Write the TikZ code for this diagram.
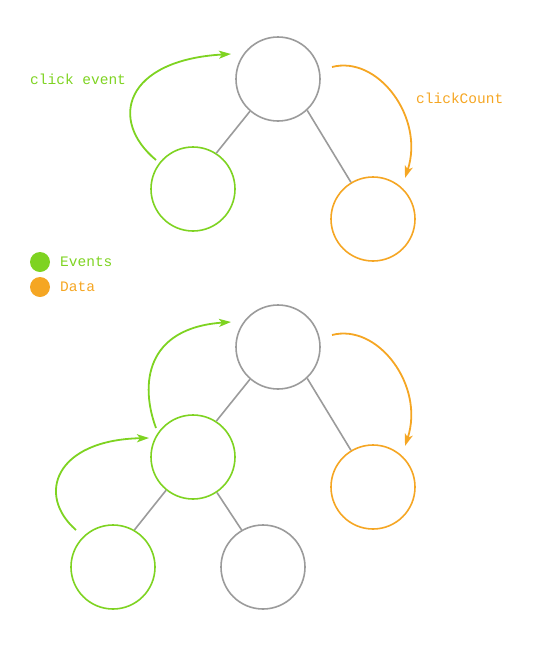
\documentclass[tikz,border=0pt]{standalone}
\usepackage{fontspec}
\setmonofont{Liberation Mono}
\usetikzlibrary{arrows.meta}
\definecolor{evgreen}{RGB}{126,211,33}
\definecolor{dtorange}{RGB}{245,166,35}
\definecolor{edgegray}{RGB}{155,155,155}
\begin{document}
\begin{tikzpicture}[x=1pt,y=-1pt,
  vert/.style={circle,draw=#1,line width=1.6pt,minimum size=84pt,inner sep=0pt},
  vert/.default=edgegray,
  treeedge/.style={draw=edgegray,line width=1.6pt},
  flow/.style={draw=#1,line width=1.8pt,-{Stealth[length=12pt,width=8pt,inset=3pt]}},
  lbl/.style={font=\ttfamily\fontsize{14.5}{17}\selectfont,anchor=base west,inner sep=0pt},
  dot/.style={circle,fill=#1,minimum size=20pt,inner sep=0pt}]
\useasboundingbox (0,0) rectangle (535,646);
% top tree
\node[vert] (ta) at (278,79) {};
\node[vert=evgreen] (tb) at (193,189) {};
\node[vert=dtorange] (tc) at (373,219) {};
\draw[treeedge] (ta.-131) -- (tb.57);
\draw[treeedge] (ta.-47) -- (tc.121);
\coordinate (tgs) at (156,160);
\coordinate (tge) at (231,54);
\draw[flow=evgreen] (tgs) .. controls (108,120) and (125,60) .. (tge);
\coordinate (tos) at (332,67);
\coordinate (toe) at (405,178);
\draw[flow=dtorange] (tos) .. controls (378,55) and (425,118) .. (toe);
\node[lbl,text=evgreen] (lclick) at (30,84) {click event};
\node[lbl,text=dtorange] (lcount) at (416,103) {clickCount};
% legend
\node[dot=evgreen] (dg) at (40,262) {};
\node[dot=dtorange] (do) at (40,287) {};
\node[lbl,text=evgreen] (lev) at (60,266) {Events};
\node[lbl,text=dtorange] (lda) at (60,291) {Data};
% bottom tree
\node[vert] (ba) at (278,347) {};
\node[vert=evgreen] (bb) at (193,457) {};
\node[vert=dtorange] (bc) at (373,487) {};
\node[vert=evgreen] (bd) at (113,567) {};
\node[vert] (be) at (263,567) {};
\draw[treeedge] (ba.-131) -- (bb.57);
\draw[treeedge] (ba.-47) -- (bc.121);
\draw[treeedge] (bb.231) -- (bd.60);
\draw[treeedge] (bb.-56) -- (be.120);
\coordinate (bgs) at (156,428);
\coordinate (bge) at (231,322);
\draw[flow=evgreen] (bgs) .. controls (140,385) and (145,328) .. (bge);
\coordinate (bos) at (332,335);
\coordinate (boe) at (405,446);
\draw[flow=dtorange] (bos) .. controls (378,323) and (425,386) .. (boe);
\coordinate (bls) at (76,530);
\coordinate (ble) at (149,438);
\draw[flow=evgreen] (bls) .. controls (36,495) and (55,440) .. (ble);
\end{tikzpicture}
\end{document}
